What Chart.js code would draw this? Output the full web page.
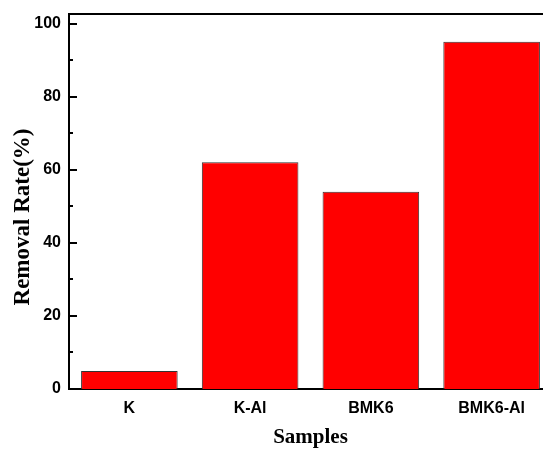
<!DOCTYPE html>
<html>
<head>
<meta charset="utf-8">
<script src="https://cdn.jsdelivr.net/npm/chart.js@4"></script>
<style>
html,body{margin:0;padding:0;background:#fff;overflow:hidden;width:543px;height:450px;}
#wrap{width:560px;height:450px;}
</style>
</head>
<body>
<div id="wrap"><canvas id="c" width="560" height="450"></canvas></div>
<script>
const categories = ["K", "K-Al", "BMK6", "BMK6-Al"];
const removalRate = [4.9, 62.1, 54.0, 95.1];
const yMajorTicks = [0, 20, 40, 60, 80, 100];
const yMinorTicks = [10, 30, 50, 70, 90];
const yTitle = "Removal Rate(%)";
const xTitle = "Samples";

const framePlugin = {
  id: 'frame',
  afterDraw(chart) {
    const {ctx, chartArea: a, scales: {y}} = chart;
    ctx.save();
    ctx.strokeStyle = '#000';
    ctx.lineWidth = 2;
    ctx.beginPath();
    ctx.moveTo(a.left - 1, a.top);
    ctx.lineTo(a.right + 20, a.top);
    ctx.stroke();
    ctx.beginPath();
    yMajorTicks.forEach(v => {
      const py = Math.round(y.getPixelForValue(v));
      ctx.moveTo(a.left, py);
      ctx.lineTo(a.left + 8, py);
    });
    yMinorTicks.forEach(v => {
      const py = Math.round(y.getPixelForValue(v));
      ctx.moveTo(a.left, py);
      ctx.lineTo(a.left + 4, py);
    });
    ctx.stroke();
    ctx.fillStyle = '#000';
    ctx.font = 'bold 23px "Liberation Serif"';
    ctx.textAlign = 'center';
    ctx.textBaseline = 'middle';
    ctx.translate(23, 217);
    ctx.rotate(-Math.PI / 2);
    ctx.fillText(yTitle, 0, 0);
    ctx.restore();
  }
};

new Chart(document.getElementById('c'), {
  type: 'bar',
  data: {
    labels: categories,
    datasets: [{
      data: removalRate,
      backgroundColor: '#ff0000',
      borderColor: '#333333',
      borderWidth: 1,
      barPercentage: 0.8,
      categoryPercentage: 1.0
    }]
  },
  options: {
    responsive: false,
    animation: false,
    layout: {padding: {top: 14, right: 8, left: 0, bottom: 0}},
    plugins: {legend: {display: false}, tooltip: {enabled: false}},
    scales: {
      x: {
        offset: true,
        grid: {display: false, drawTicks: false},
        border: {display: true, color: '#000', width: 2},
        ticks: {color: '#000', font: {family: 'Liberation Sans', size: 16, weight: 'bold'}, padding: 10},
        title: {display: true, text: xTitle, color: '#000', font: {family: 'Liberation Serif', size: 21, weight: 'bold'}, padding: {top: 0, bottom: 0}},
        afterFit(s) { s.height = 61; s.paddingLeft = 0; s.paddingRight = 0; }
      },
      y: {
        min: 0,
        max: 102.7,
        grid: {display: false, drawTicks: false},
        border: {display: true, color: '#000', width: 2},
        ticks: {color: '#000', font: {family: 'Liberation Sans', size: 16, weight: 'bold'}, padding: 8},
        afterBuildTicks(s) { s.ticks = yMajorTicks.map(v => ({value: v})); },
        afterFit(s) { s.width = 69; s.paddingTop = 0; s.paddingBottom = 0; }
      }
    }
  },
  plugins: [framePlugin]
});
</script>
</body>
</html>
